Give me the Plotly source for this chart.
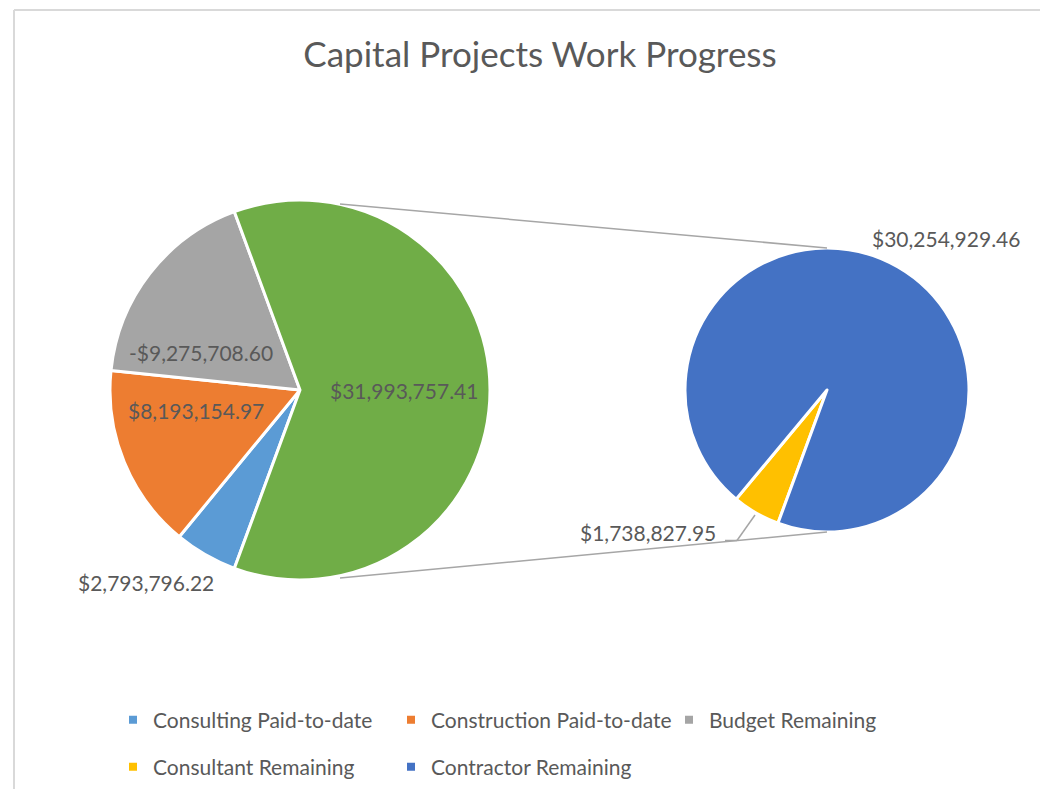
"""
Capital projects work progress — Excel-style pie-of-pie rebuilt with Plotly.
"""
import plotly.graph_objects as go

# page body keeps its default 8px margin, so the figure is offset by it
OX, OY = 8, 8
W, H = 1032, 781

# ── Data ──────────────────────────────────────────────────────────────────────
main_labels = ["Consulting Paid-to-date", "Construction Paid-to-date", "Budget Remaining"]
main_values = [2793796.22, 8193154.97, -9275708.60]

split_labels = ["Consultant Remaining", "Contractor Remaining"]
split_values = [1738827.95, 30254929.46]

main_colors = ["#5B9BD5", "#ED7D31", "#A5A5A5"]
other_color = "#70AD47"
split_colors = ["#FFC000", "#4472C4"]

TEXT = "#595959"
FONT = "Lato"


def money(v):
    return f"-${abs(v):,.2f}" if v < 0 else f"${v:,.2f}"


def px_x(x):
    return (x - OX) / W


def px_y(y):
    return 1 - (y - OY) / H


other_value = sum(split_values)
left_values = [abs(v) for v in main_values] + [other_value]
left_total = sum(left_values)
# "Other" slice faces the second pie (3 o'clock)
start_angle = 90 + other_value / left_total * 360 / 2

# pie geometry in screen pixels (centre x, centre y, radius)
LEFT = (300, 390, 190)
RIGHT = (827, 390, 142)


def domain(c):
    cx, cy, r = c
    return dict(x=[px_x(cx - r), px_x(cx + r)], y=[px_y(cy + r), px_y(cy - r)])


fig = go.Figure()

fig.add_trace(go.Pie(
    labels=main_labels + ["Other"],
    values=left_values,
    textinfo="none",
    marker=dict(colors=main_colors + [other_color], line=dict(color="white", width=3)),
    sort=False,
    direction="clockwise",
    rotation=start_angle,
    domain=domain(LEFT),
    showlegend=False,
))

fig.add_trace(go.Pie(
    labels=split_labels,
    values=split_values,
    textinfo="none",
    marker=dict(colors=split_colors, line=dict(color="white", width=3)),
    sort=False,
    direction="clockwise",
    rotation=start_angle,
    domain=domain(RIGHT),
    showlegend=False,
))

# legend entries (two rows, like Excel)
for i, (name, col) in enumerate(zip(main_labels + split_labels, main_colors + split_colors)):
    fig.add_trace(go.Scatter(
        x=[None], y=[None], mode="markers", name=name,
        marker=dict(symbol="square", size=8, color=col),
        legend="legend" if i < 3 else "legend2",
    ))

# ── Data labels (Excel placement) ─────────────────────────────────────────────
label_text = [money(v) for v in main_values] + [money(other_value)] + \
             [money(v) for v in split_values]
label_pos = [  # (x, y, xanchor) in screen pixels
    (216, 582, "right"),
    (196, 410, "center"),
    (201, 352, "center"),
    (404, 391, "center"),
    (718, 532, "right"),
    (870, 238, "left"),
]
annotations = [
    dict(text=t, x=px_x(x), y=px_y(y), xref="paper", yref="paper",
         xanchor=xa, yanchor="middle", showarrow=False,
         font=dict(family=FONT, size=21, color=TEXT))
    for t, (x, y, xa) in zip(label_text, label_pos)
]

# connector lines between the pies, leader line, chart frame
LINE = "#A6A6A6"


def seg(x0, y0, x1, y1, color=LINE, width=1.5):
    return dict(type="line", xref="paper", yref="paper",
                x0=px_x(x0), y0=px_y(y0), x1=px_x(x1), y1=px_y(y1),
                line=dict(color=color, width=width))


shapes = [
    seg(340, 204, RIGHT[0], RIGHT[1] - RIGHT[2]),
    seg(340, 578, RIGHT[0], RIGHT[1] + RIGHT[2]),
    seg(725, 540.5, 737, 540.5),
    seg(737, 540.5, 755, 515),
    seg(14, 10, 14, 797, color="#D9D9D9", width=2),
    seg(14, 10, 1048, 10, color="#D9D9D9", width=2),
]

legend_style = dict(
    orientation="h", xanchor="left", yanchor="middle",
    entrywidth=233, entrywidthmode="pixels",
    font=dict(family=FONT, size=21, color=TEXT),
    bgcolor="rgba(0,0,0,0)", itemclick=False, itemdoubleclick=False,
)

fig.update_layout(
    width=W, height=H,
    margin=dict(l=0, r=0, t=0, b=0),
    paper_bgcolor="white",
    plot_bgcolor="white",
    font=dict(family=FONT, color=TEXT),
    title=dict(text="Capital Projects Work Progress", x=px_x(540), xanchor="center",
               y=px_y(55), yanchor="middle", font=dict(family=FONT, size=35, color=TEXT)),
    xaxis=dict(visible=False),
    yaxis=dict(visible=False),
    legend=dict(x=px_x(113), y=px_y(720), **legend_style),
    legend2=dict(x=px_x(113), y=px_y(767), **legend_style),
    annotations=annotations,
    shapes=shapes,
    hovermode=False,
)

fig.write_html("out.html")
